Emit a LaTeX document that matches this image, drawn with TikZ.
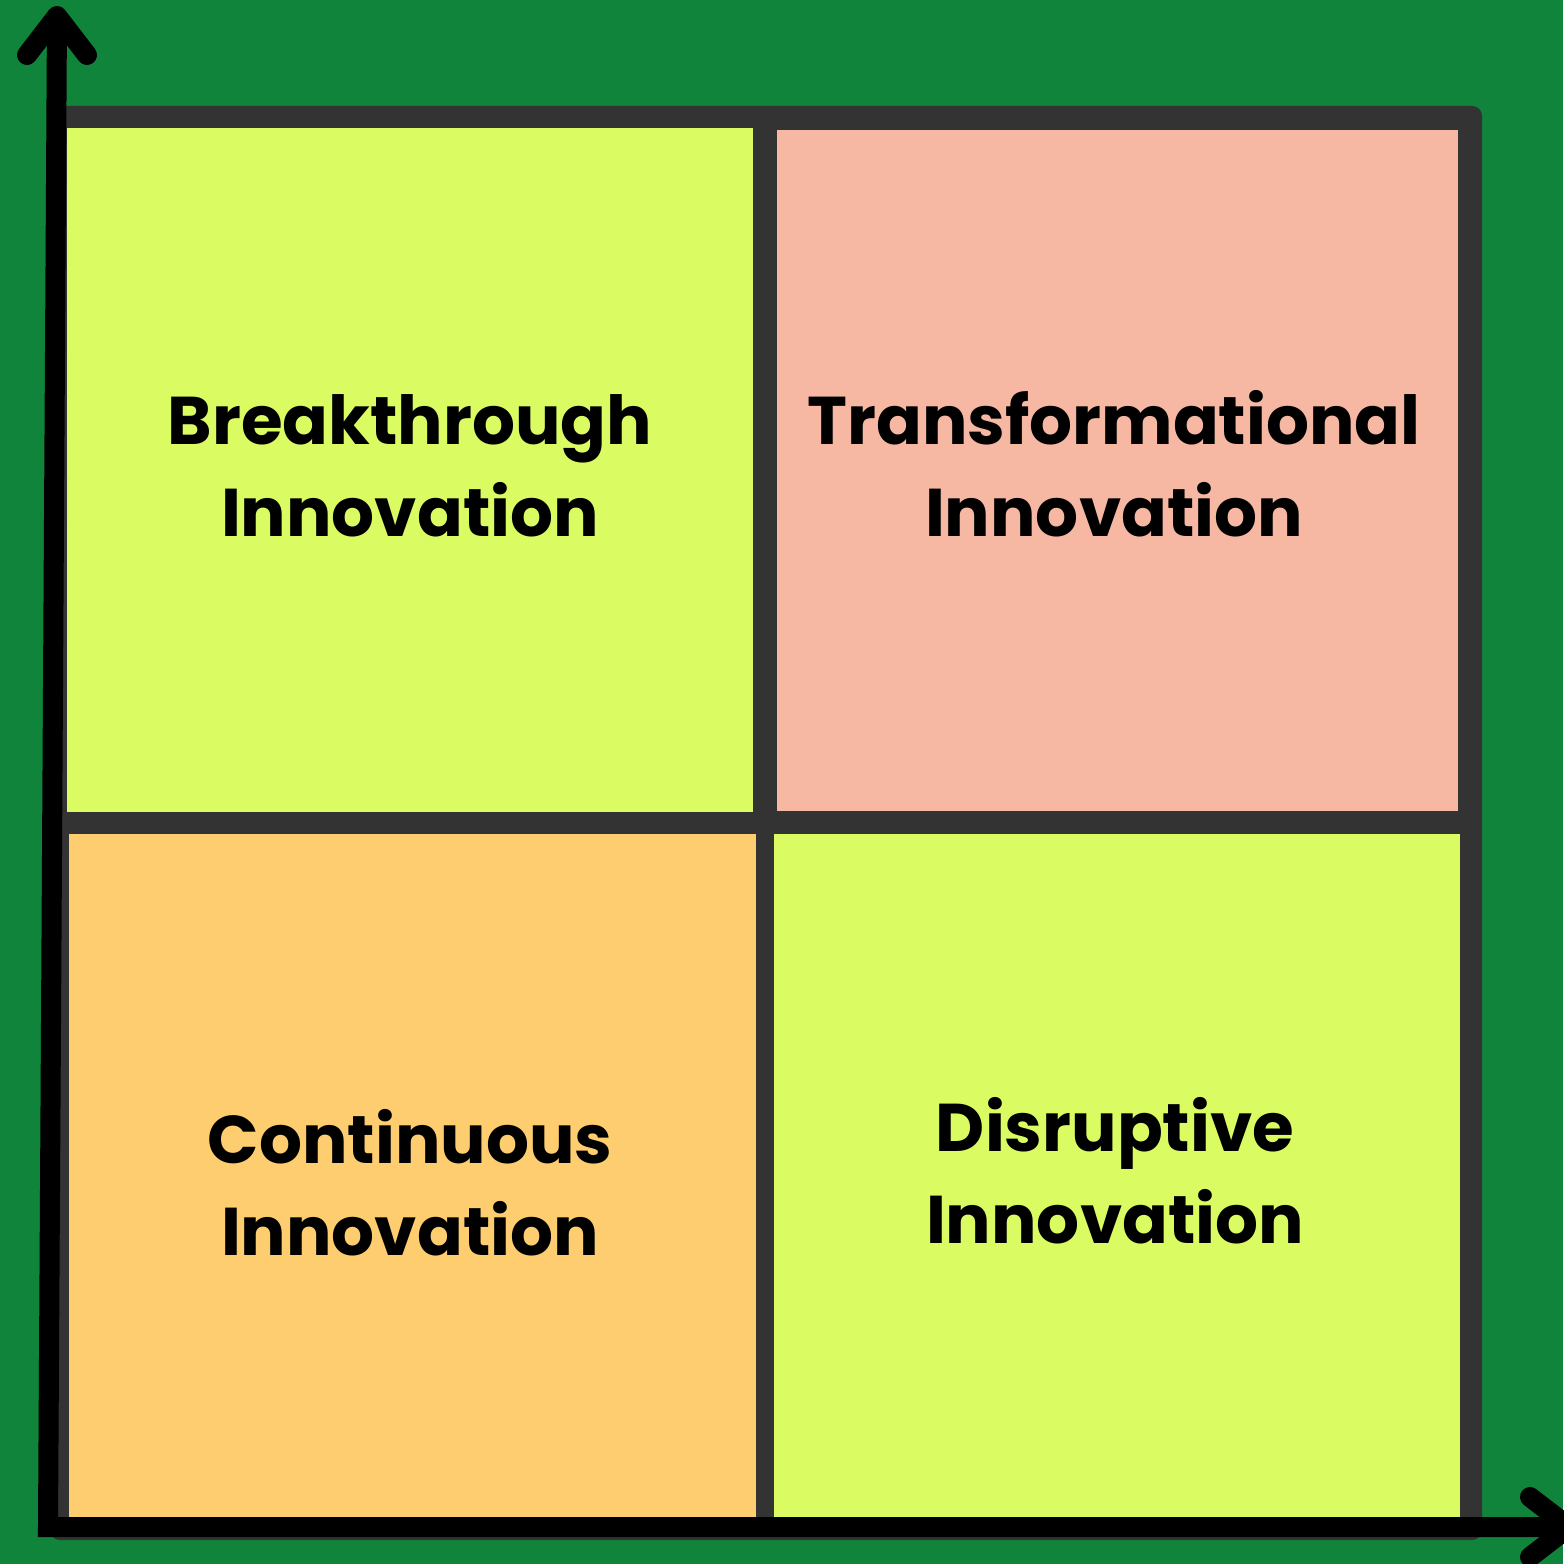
\documentclass[tikz,border=0pt]{standalone}
\usepackage{fontspec}
\newfontfamily\quadfont{Poppins}
\usetikzlibrary{calc}
\definecolor{bggreen}{HTML}{10843A}
\definecolor{framegray}{HTML}{333333}
\definecolor{limecell}{HTML}{DAFC62}
\definecolor{pinkcell}{HTML}{F6B8A3}
\definecolor{orangecell}{HTML}{FECD6F}
\tikzset{
         quadlabel/.style={font=\quadfont\bfseries\fontsize{19.2}{26.2}\selectfont,align=center,inner sep=0pt,anchor=south},
         axisline/.style={line width=5.69pt,black}
        }
\begin{document}
\begin{tikzpicture}[x=0.01cm,y=-0.01cm]
\useasboundingbox(0,0)rectangle(1563,1564);
\fill[bggreen](0,0)rectangle(1563,1564);%background
%frame and quadrants
\fill[framegray,rounded corners=2.8pt](50,106)rectangle(1482,1540);
\fill[limecell](67,128)rectangle(753,812);
\fill[pinkcell](777,130)rectangle(1458,811);
\fill[orangecell](69,834)rectangle(756,1518);
\fill[limecell](774,834)rectangle(1460,1518);
%labels
\node[quadlabel](breakthrough)at(410,538){Breakthrough\\Innovation};
\node[quadlabel](transformational)at(1114,538){Transformational\\Innovation};
\node[quadlabel](continuous)at(410,1257){Continuous\\Innovation};
\node[quadlabel](disruptive)at(1115,1245){Disruptive\\Innovation};
%axes
\coordinate(origin)at(48,1527);
\coordinate(ytip)at(57,16);
\coordinate(xtip)at(1569,1527);
\draw[axisline,line join=miter](ytip)--(origin)--(xtip);
\draw[axisline,line cap=round,line join=round]($(ytip)+(-30,39)$)--(ytip)--($(ytip)+(30,39)$);
\draw[axisline,line cap=round,line join=round]($(xtip)+(-39,-30)$)--(xtip)--($(xtip)+(-39,30)$);
\end{tikzpicture}
\end{document}
